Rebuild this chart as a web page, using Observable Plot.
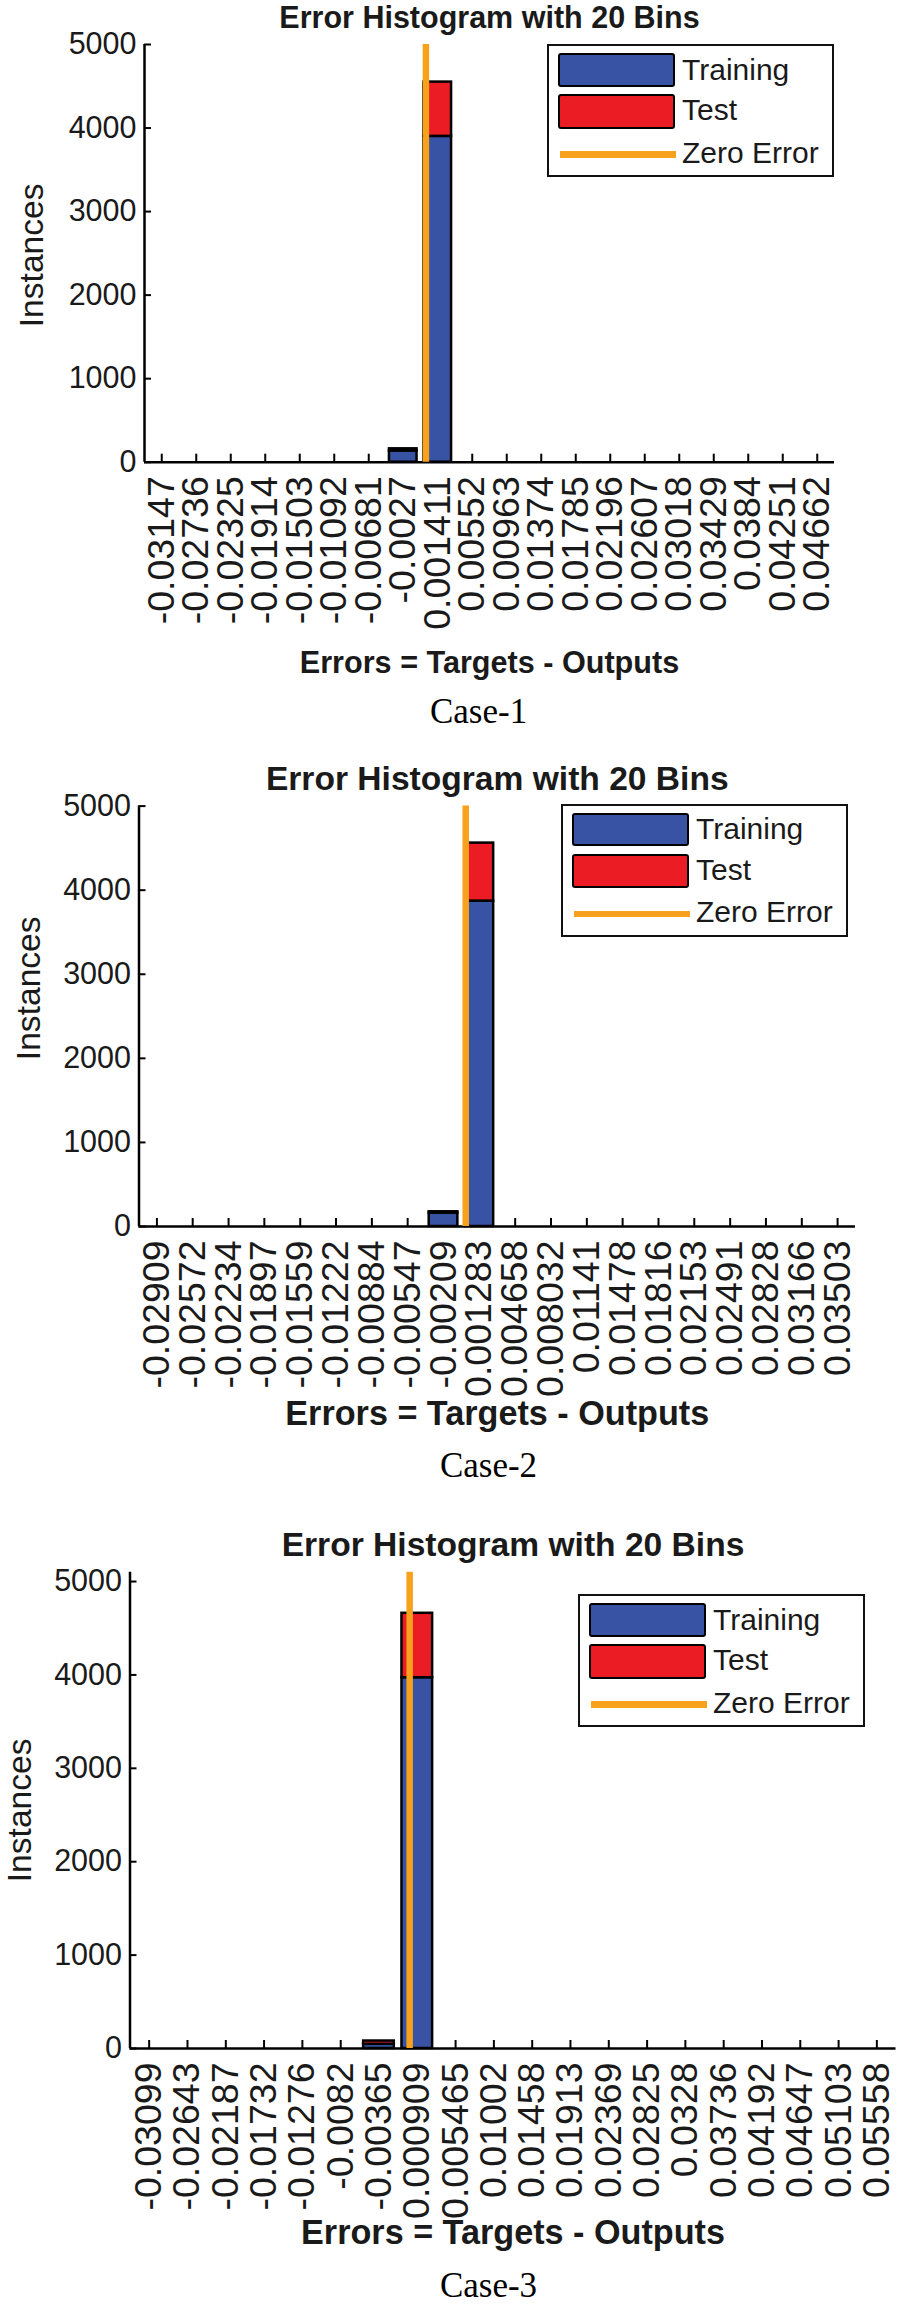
<!DOCTYPE html>
<html><head><meta charset="utf-8">
<script src="https://cdn.jsdelivr.net/npm/d3@7"></script>
<script src="https://cdn.jsdelivr.net/npm/@observablehq/plot@0.6"></script>
<style>
body{margin:0;background:#fff;}
#root{position:relative;width:900px;height:2304px;overflow:hidden;background:#fff;font-family:"Liberation Sans",Arial,sans-serif;}
.panel{position:absolute;left:0;}
.legend{position:absolute;border:2px solid #111;background:#fff;box-sizing:border-box;width:287px;height:133px;}
.sw{position:absolute;border:2.5px solid #000;border-radius:3px;box-sizing:border-box;}
.zl{position:absolute;}
.lt{position:absolute;font-size:30px;line-height:30px;color:#1a1a1a;white-space:nowrap;}
.cap{position:absolute;font-family:"Liberation Serif","Times New Roman",serif;font-size:35px;line-height:35px;white-space:nowrap;transform:translateX(-50%);color:#000;}
</style></head><body><div id="root"></div>
<script>
// ---- text ----
const titleText = "Error Histogram with 20 Bins";
const xLabelText = "Errors = Targets - Outputs";
const yLabelText = "Instances";
const seriesNames = ["Training", "Test", "Zero Error"];
const caseNames = ["Case-1", "Case-2", "Case-3"];
const yTickValues = [0, 1000, 2000, 3000, 4000, 5000];

// ---- data: bin centre labels and stacked counts ----
const binLabels1 = ["-0.03147","-0.02736","-0.02325","-0.01914","-0.01503","-0.01092","-0.00681","-0.0027","0.001411","0.00552","0.00963","0.01374","0.01785","0.02196","0.02607","0.03018","0.03429","0.0384","0.04251","0.04662"];
const training1 = [0,0,0,0,0,0,0,135,3900,0,0,0,0,0,0,0,0,0,0,0];
const test1     = [0,0,0,0,0,0,0,25,650,0,0,0,0,0,0,0,0,0,0,0];

const binLabels2 = ["-0.02909","-0.02572","-0.02234","-0.01897","-0.01559","-0.01222","-0.00884","-0.00547","-0.00209","0.001283","0.004658","0.008032","0.01141","0.01478","0.01816","0.02153","0.02491","0.02828","0.03166","0.03503"];
const training2 = [0,0,0,0,0,0,0,0,160,3870,0,0,0,0,0,0,0,0,0,0];
const test2     = [0,0,0,0,0,0,0,0,15,690,0,0,0,0,0,0,0,0,0,0];

const binLabels3 = ["-0.03099","-0.02643","-0.02187","-0.01732","-0.01276","-0.0082","-0.00365","0.000909","0.005465","0.01002","0.01458","0.01913","0.02369","0.02825","0.0328","0.03736","0.04192","0.04647","0.05103","0.05558"];
const training3 = [0,0,0,0,0,0,45,3970,0,0,0,0,0,0,0,0,0,0,0,0];
const test3     = [0,0,0,0,0,0,35,690,0,0,0,0,0,0,0,0,0,0,0,0];

const yMax = [5000, 5000, 5100];

// ---- styles / layout ----
const colors = {train: "#3953a4", test: "#ec1c24", zero: "#f7a11c", ink: "#1a1a1a"};
const layouts = [
  {top: 0, height: 700, mt: 44, mb: 238.3, ml: 144, mr: 66, titleDy: -26, xlabDy: 201, ylabDx: -112, ylabDy: 2,
   titleSize: 30.5, xlabSize: 30.6,
   legend: {left: 547, top: 44}, cap: {x: 478.6, base: 723}},
  {top: 720, height: 730, mt: 85.6, mb: 224, ml: 138.5, mr: 45, titleDy: -27, xlabDy: 188, ylabDx: -110, ylabDy: -28,
   titleSize: 33.6, xlabSize: 34.2,
   legend: {left: 561, top: 803.6}, cap: {x: 488.5, base: 1477}},
  {top: 1500, height: 760, mt: 71.7, mb: 212, ml: 129.5, mr: 4.5, titleDy: -26.7, xlabDy: 185, ylabDx: -109.5, ylabDy: 0,
   titleSize: 33.6, xlabSize: 34.2,
   legend: {left: 578, top: 1594}, cap: {x: 488.5, base: 2297}}
];

const panels = [
  {labels: binLabels1, training: training1, test: test1},
  {labels: binLabels2, training: training2, test: test2},
  {labels: binLabels3, training: training3, test: test3}
];

const root = document.getElementById("root");

function makePanel(p, L, ymax) {
  const centers = p.labels.map(Number);
  const n = centers.length;
  const bin = (centers[n - 1] - centers[0]) / (n - 1);
  const xLo = centers[0] - bin / 2, xHi = centers[n - 1] + bin / 2;
  const labelOf = new Map(centers.map((c, i) => [c, p.labels[i]]));
  const trainRows = centers.map((c, i) => ({c, y1: 0, y2: p.training[i]})).filter(d => d.y2 > 0);
  const testRows = centers.map((c, i) => ({c, y1: p.training[i], y2: p.training[i] + p.test[i], v: p.test[i]})).filter(d => d.v > 0);
  const fw = 900 - L.ml - L.mr;
  const fh = L.height - L.mt - L.mb;
  const half = bin * 0.4;
  return Plot.plot({
    width: 900,
    height: L.height,
    marginTop: L.mt, marginBottom: L.mb, marginLeft: L.ml, marginRight: L.mr,
    x: {domain: [xLo, xHi]},
    y: {domain: [0, ymax]},
    style: {fontFamily: "'Liberation Sans', Arial, sans-serif", fontSize: "30px", color: colors.ink, background: "transparent", overflow: "visible"},
    marks: [
      Plot.tickX(centers, {x: d => d, insetTop: fh - 8, stroke: "#000", strokeWidth: 2}),
      Plot.tickY(yTickValues, {y: d => d, insetRight: fw - 7, stroke: "#000", strokeWidth: 2}),
      Plot.rect(trainRows, {x1: d => d.c - half, x2: d => d.c + half, y1: "y1", y2: "y2", fill: colors.train, stroke: "#000", strokeWidth: 2.5}),
      Plot.rect(testRows, {x1: d => d.c - half, x2: d => d.c + half, y1: "y1", y2: "y2", fill: colors.test, stroke: "#000", strokeWidth: 2.5}),
      Plot.ruleY([0], {stroke: "#000", strokeWidth: 2.5}),
      Plot.ruleX([xLo], {stroke: "#000", strokeWidth: 2.5}),
      Plot.ruleX([0], {stroke: colors.zero, strokeWidth: 6.5}),
      Plot.axisX({ticks: centers, tickFormat: d => labelOf.get(d), tickRotate: -90, tickSize: 0, tickPadding: 14, fontSize: 37.5, label: null}),
      Plot.axisY({ticks: yTickValues, tickFormat: d => String(d), tickSize: 0, tickPadding: 8, fontSize: 30.5, label: null}),
      Plot.text([titleText], {text: d => d, frameAnchor: "top", textAnchor: "middle", lineAnchor: "middle", dy: L.titleDy, fontSize: L.titleSize, fontWeight: "bold", fill: colors.ink}),
      Plot.text([xLabelText], {text: d => d, frameAnchor: "bottom", textAnchor: "middle", lineAnchor: "middle", dy: L.xlabDy, fontSize: L.xlabSize, fontWeight: "bold", fill: colors.ink}),
      Plot.text([yLabelText], {text: d => d, frameAnchor: "left", textAnchor: "middle", lineAnchor: "middle", rotate: -90, dx: L.ylabDx, dy: L.ylabDy, fontSize: 33.6, fill: colors.ink})
    ]
  });
}

function makeLegend(L) {
  const box = document.createElement("div");
  box.className = "legend";
  box.style.left = L.legend.left + "px";
  box.style.top = L.legend.top + "px";
  const sw1 = document.createElement("div");
  sw1.className = "sw";
  Object.assign(sw1.style, {left: "9px", top: "7px", width: "117px", height: "33.5px", background: colors.train});
  const sw2 = document.createElement("div");
  sw2.className = "sw";
  Object.assign(sw2.style, {left: "9px", top: "48px", width: "117px", height: "34.5px", background: colors.test});
  const zl = document.createElement("div");
  zl.className = "zl";
  Object.assign(zl.style, {left: "11px", top: "105px", width: "116px", height: "6.5px", background: colors.zero});
  box.append(sw1, sw2, zl);
  const baselines = [34, 74.7, 117.3];
  seriesNames.forEach((s, i) => {
    const t = document.createElement("div");
    t.className = "lt";
    t.textContent = s;
    t.style.left = "133px";
    t.style.top = (baselines[i] - 25.4) + "px";
    box.append(t);
  });
  return box;
}

panels.forEach((p, i) => {
  const L = layouts[i];
  const svg = makePanel(p, L, yMax[i]);
  svg.classList.add("panel");
  svg.style.position = "absolute";
  svg.style.top = L.top + "px";
  svg.style.left = "0px";
  root.append(svg);
});
panels.forEach((p, i) => {
  const L = layouts[i];
  root.append(makeLegend(L));
  const cap = document.createElement("div");
  cap.className = "cap";
  cap.textContent = caseNames[i];
  cap.style.left = L.cap.x + "px";
  cap.style.top = (L.cap.base - 29.3) + "px";
  root.append(cap);
});
</script>
</body></html>
